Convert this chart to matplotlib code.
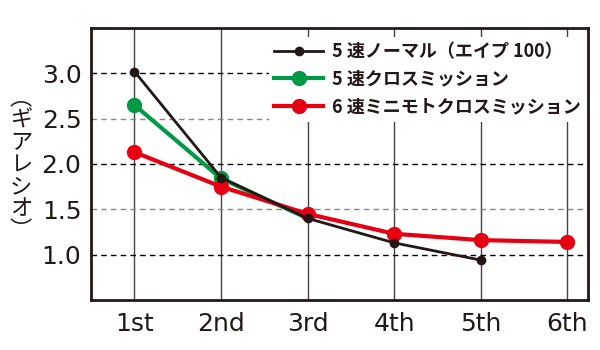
import matplotlib
matplotlib.use('Agg')
import matplotlib.pyplot as plt

plt.rcParams['font.family'] = ['Noto Sans CJK JP', 'DejaVu Sans']

gears = ['1st', '2nd', '3rd', '4th', '5th', '6th']
normal5 = [3.02, 1.85, 1.40, 1.13, 0.94]
cross5 = [2.65, 1.84, 1.40]
mini6 = [2.13, 1.75, 1.45, 1.23, 1.16, 1.14]
yticks = [1.0, 1.5, 2.0, 2.5, 3.0]
names = ['5 速ノーマル（エイプ 100）', '5 速クロスミッション', '6 速ミニモトクロスミッション']

fig = plt.figure(figsize=(6, 3.5), dpi=100)
ax = fig.add_axes([0.152, 0.143, 0.828, 0.777])

x = list(range(1, 7))
for xi in x:
    ax.axvline(xi, color='#444444', lw=1, zorder=0)
for yv in yticks:
    c = 'black' if yv == int(yv) else '#888888'
    ax.axhline(yv, color=c, lw=1, ls=(0, (4, 3)), zorder=0)

ax.plot(x[:len(cross5)], cross5, color='#009944', lw=3, marker='o', ms=10,
        markevery=[0, 1], zorder=2, label=names[1])
ax.plot(x[:len(mini6)], mini6, color='#e60012', lw=3, marker='o', ms=10, zorder=3, label=names[2])
ax.plot(x[:len(normal5)], normal5, color='#231815', lw=2, marker='o', ms=6, zorder=4, label=names[0])

ax.set_xlim(0.5, 6.24)
ax.set_ylim(0.5, 3.5)
ax.set_xticks(x)
ax.set_xticklabels(gears)
ax.set_yticks(yticks)
ax.set_yticklabels(['%.1f' % v for v in yticks])
ax.tick_params(axis='both', length=0, labelsize=18, colors='#231815')
ax.tick_params(axis='y', pad=7)
ax.tick_params(axis='x', pad=9)
for t in ax.get_xticklabels() + ax.get_yticklabels():
    t.set_family('DejaVu Sans')
for s in ax.spines.values():
    s.set_linewidth(2)
    s.set_color('#231815')

h, l = ax.get_legend_handles_labels()
order = [2, 0, 1]
leg = ax.legend([h[i] for i in order], [l[i] for i in order], loc='upper right',
                bbox_to_anchor=(1.0, 0.975),
                frameon=True, facecolor='white', edgecolor='none', framealpha=1,
                handlelength=2.7, handletextpad=0.5, labelspacing=0.48,
                borderpad=0.3, prop={'size': 13, 'weight': 'bold'}, borderaxespad=0.1)
leg.set_zorder(5)
for t in leg.get_texts():
    t.set_color('#231815')

fig.text(0.035, 0.53, '︵\nギ\nア\nレ\nシ\nオ\n︶', ha='center', va='center',
         fontsize=16, linespacing=0.95, color='#231815')

fig.savefig('out.png', dpi=100)
